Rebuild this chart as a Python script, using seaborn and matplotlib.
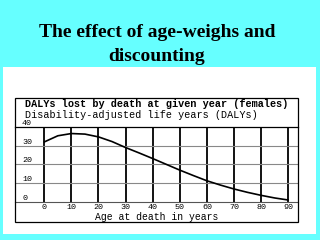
import matplotlib
matplotlib.use("Agg")
import matplotlib.pyplot as plt
import matplotlib.transforms as mtransforms
from matplotlib.patches import Rectangle
import seaborn as sns
import pandas as pd

# ---- data ----
ages = [0, 5, 10, 15, 20, 25, 30, 35, 40, 45, 50, 55, 60, 65, 70, 75, 80, 85, 90]
dalys = [32.0, 35.3, 36.5, 36.2, 34.7, 32.2, 29.0, 26.1, 23.1, 20.0, 16.9, 14.0, 11.2, 8.9, 6.8, 5.0, 3.4, 2.0, 0.9]
x_ticks = [0, 10, 20, 30, 40, 50, 60, 70, 80, 90]
y_ticks = [0, 10, 20, 30, 40]
title_lines = ["The effect of age-weighs and", "discounting"]
header1 = "DALYs lost by death at given year (females)"
header2 = "Disability-adjusted life years (DALYs)"
xlabel = "Age at death in years"

df = pd.DataFrame({"age": ages, "dalys": dalys})

sns.set_style("white")
plt.rcParams["font.family"] = ["Liberation Mono", "DejaVu Sans"]
plt.rcParams["text.color"] = "black"
plt.rcParams["axes.labelcolor"] = "black"
plt.rcParams["xtick.color"] = "black"
plt.rcParams["ytick.color"] = "black"

fig = plt.figure(figsize=(3.2, 2.4), dpi=100)
fig.patch.set_facecolor("#66FFFF")

# white panel
fig.add_artist(Rectangle((3/320, 1-234/240), 313/320, 167/240, transform=fig.transFigure,
                         facecolor="white", edgecolor="none", zorder=0))
# outer box of chart
fig.add_artist(Rectangle((15/320, 1-222/240), 283/320, 124/240, transform=fig.transFigure,
                         facecolor="none", edgecolor="black", linewidth=0.9, zorder=5))

for line, base in zip(title_lines, [37, 61]):
    fig.text(0.49, 1-base/240, line, ha="center", va="baseline", family="Liberation Serif",
             fontweight="bold", fontsize=14, color="black")

fig.text(25/320, 1-104/240, header1, ha="left", va="center", fontsize=7.3,
         fontweight="bold")
fig.text(25/320, 1-115.5/240, header2, ha="left", va="center", fontsize=7.3)

ax = fig.add_axes([15/320, 1-201.7/240, 283/320, 74.7/240])
ax.set_facecolor("none")
sns.lineplot(data=df, x="age", y="dalys", ax=ax, color="black", linewidth=1.2)
ax.set_xlim(-10.8, 93.6)
ax.set_ylim(0, 40)

# vertical grid lines (thick black) at x ticks
for xv in x_ticks:
    ax.axvline(xv, color="black", linewidth=1.3, zorder=1)
# horizontal grid lines (gray)
for yv in y_ticks[1:-1]:
    ax.axhline(yv, color="#888888", linewidth=0.8, zorder=1)

for s in ["left", "right"]:
    ax.spines[s].set_visible(False)
ax.spines["top"].set_color("black")
ax.spines["top"].set_linewidth(0.9)
ax.spines["bottom"].set_color("#555555")
ax.spines["bottom"].set_linewidth(0.8)

ax.set_xticks(x_ticks)
ax.set_xticklabels([str(v) for v in x_ticks], fontsize=6)
ax.tick_params(axis="x", length=0, pad=2)
ax.set_yticks([])
ax.set_xlabel(xlabel, fontsize=7, labelpad=0.3)
ax.set_ylabel("")

trans = mtransforms.offset_copy(ax.transData, fig=fig, x=0, y=3.5, units="dots")
for yv in y_ticks:
    ax.text(-8.2, yv, str(yv), transform=trans, ha="left", va="center", fontsize=6)

fig.savefig("out.png", dpi=100, facecolor=fig.get_facecolor())
